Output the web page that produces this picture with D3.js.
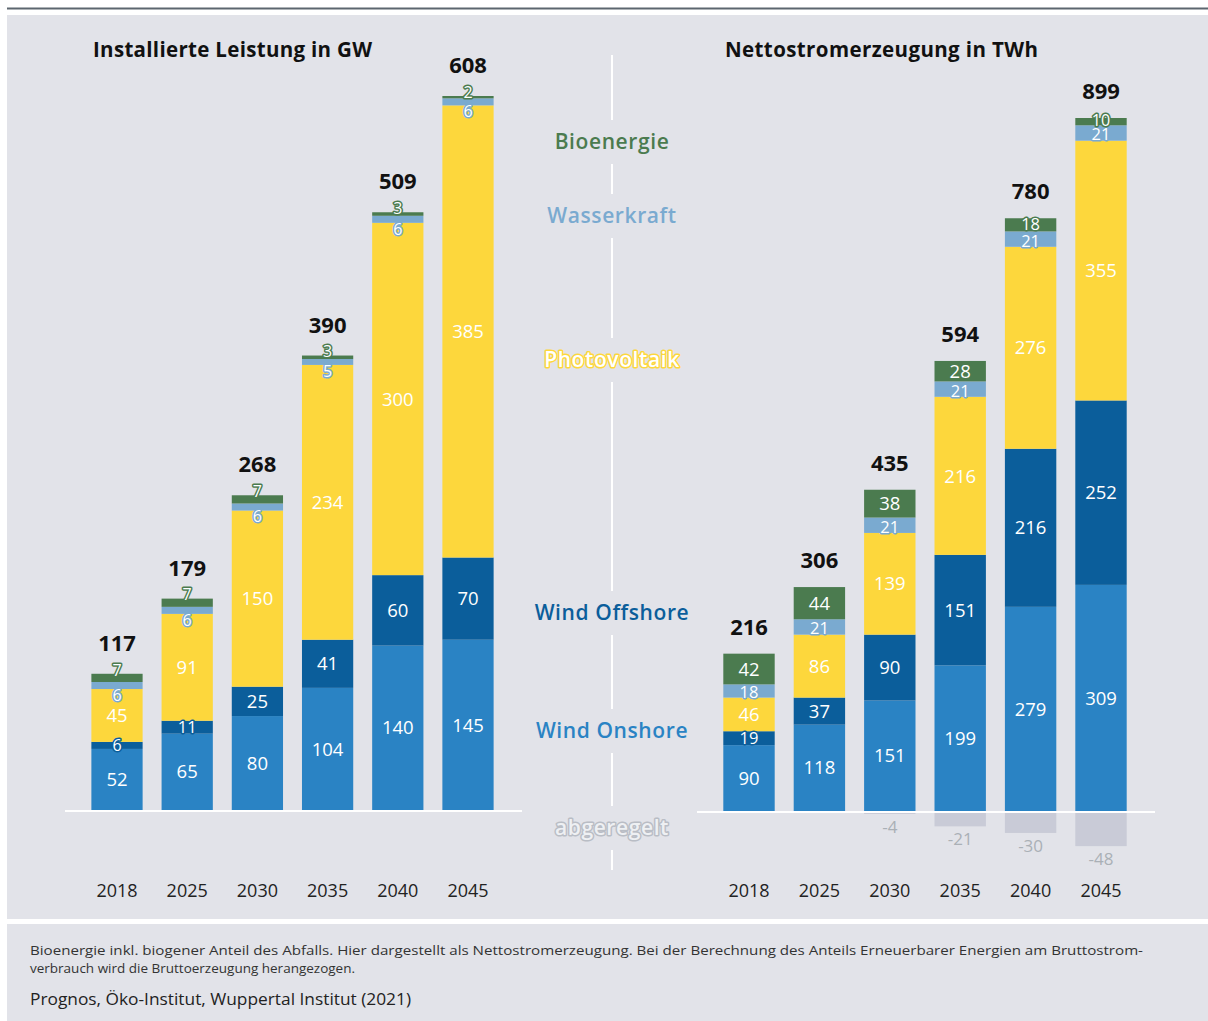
<!DOCTYPE html>
<html><head><meta charset="utf-8">
<script src="https://cdn.jsdelivr.net/npm/d3@7"></script>
<style>
body{margin:0;background:#fff;}
svg{display:block;font-family:"Open Sans",sans-serif;}
</style></head><body>
<svg id="c" width="1208" height="1021"></svg>
<script>
const years = ["2018","2025","2030","2035","2040","2045"];
const seriesKeys = ["Wind Onshore","Wind Offshore","Photovoltaik","Wasserkraft","Bioenergie"];
// Installierte Leistung in GW
const capOnshore = [52,65,80,104,140,145];
const capOffshore = [6,11,25,41,60,70];
const capPV = [45,91,150,234,300,385];
const capHydro = [6,6,6,5,6,6];
const capBio = [7,7,7,3,3,2];
const capTotal = [117,179,268,390,509,608];
// Nettostromerzeugung in TWh
const genOnshore = [90,118,151,199,279,309];
const genOffshore = [19,37,90,151,216,252];
const genPV = [46,86,139,216,276,355];
const genHydro = [18,21,21,21,21,21];
const genBio = [42,44,38,28,18,10];
const genCurtailed = [0,0,-4,-21,-30,-48];
const genTotal = [216,306,435,594,780,899];

const titles = ["Installierte Leistung in GW","Nettostromerzeugung in TWh"];
const footnote1 = "Bioenergie inkl. biogener Anteil des Abfalls. Hier dargestellt als Nettostromerzeugung. Bei der Berechnung des Anteils Erneuerbarer Energien am Bruttostrom-";
const footnote2 = "verbrauch wird die Bruttoerzeugung herangezogen.";
const source = "Prognos, Öko-Institut, Wuppertal Institut (2021)";

const colors = {"Wind Onshore":"#2a83c4","Wind Offshore":"#0b5e9b","Photovoltaik":"#fdd73c","Wasserkraft":"#7aaad0","Bioenergie":"#4b7b4f"};
const BG = "#e2e3e9";

const svg = d3.select("#c");
// frame
svg.append("rect").attr("x",7).attr("y",15).attr("width",1201).attr("height",904).attr("fill",BG);
svg.append("rect").attr("x",7).attr("y",924).attr("width",1201).attr("height",97).attr("fill",BG);
svg.append("line").attr("x1",7).attr("x2",1208).attr("y1",8.5).attr("y2",8.5).attr("stroke","#5c666f").attr("stroke-width",2);

function makeRows(on,off,pv,hy,bio){
  return years.map((y,i)=>({year:y,"Wind Onshore":on[i],"Wind Offshore":off[i],"Photovoltaik":pv[i],"Wasserkraft":hy[i],"Bioenergie":bio[i]}));
}

function drawChart(cfg){
  const rows = makeRows(...cfg.vals);
  const x = d3.scaleBand().domain(years).range(cfg.xr).paddingInner(0.27).paddingOuter(0.135);
  const y = d3.scaleLinear().domain(cfg.yd).range(cfg.yr);
  const g = svg.append("g");
  const stack = d3.stack().keys(seriesKeys)(rows);
  // bars
  stack.forEach(layer=>{
    g.selectAll(null).data(layer).enter().append("rect")
      .attr("x",d=>x(d.data.year)).attr("width",x.bandwidth())
      .attr("y",d=>y(d[1])).attr("height",d=>y(d[0])-y(d[1]))
      .attr("fill",colors[layer.key]);
  });
  // curtailed
  if(cfg.curt){
    const cd = years.map((yr,i)=>({year:yr,v:cfg.curt[i]})).filter(d=>d.v<0);
    g.selectAll(null).data(cd).enter().append("rect")
      .attr("x",d=>x(d.year)).attr("width",x.bandwidth())
      .attr("y",y(0)).attr("height",d=>y(d.v)-y(0)).attr("fill","#c9cbd7");
    g.selectAll(null).data(cd).enter().append("text")
      .attr("x",d=>x(d.year)+x.bandwidth()/2).attr("y",d=>y(d.v)+19)
      .attr("text-anchor","middle").attr("font-size",17).attr("fill","#aab0b6")
      .text(d=>String(d.v));
  }
  const fsOf = h => h<11?16:(h<20?16.5:18.5);
  // segment labels
  stack.forEach(layer=>{
    g.selectAll(null).data(layer).enter().append("text")
      .attr("x",d=>x(d.data.year)+x.bandwidth()/2)
      .attr("y",d=>{
        const top=y(d[1]), bot=y(d[0]), h=bot-top;
        let c=(top+bot)/2;
        if(h<11){
          if(layer.key==="Bioenergie") c = cfg.outside ? top-4 : top+2;
          else if(layer.key==="Wasserkraft") c=bot+6;
        }
        else if(h<20){ if(layer.key==="Bioenergie") c=(top+bot)/2-1; else if(layer.key==="Wasserkraft") c=(top+bot)/2+1.5; }
        return c+fsOf(h)*0.36;
      })
      .attr("text-anchor","middle").attr("font-size",d=>fsOf(y(d[0])-y(d[1]))).attr("fill","#fff")
      .attr("stroke",colors[layer.key]).attr("stroke-width",3).attr("paint-order","stroke").attr("stroke-linejoin","round")
      .text(d=>d.data[layer.key]);
  });
  // totals
  g.selectAll(null).data(rows).enter().append("text")
    .attr("x",d=>x(d.year)+x.bandwidth()/2)
    .attr("y",(d,i)=>y(d3.sum(seriesKeys,k=>d[k]))-cfg.totOff)
    .attr("text-anchor","middle").attr("font-size",22).attr("font-weight",700).attr("fill","#111")
    .text((d,i)=>cfg.totals[i]);
  // baseline
  g.append("line").attr("x1",cfg.base[0]).attr("x2",cfg.base[1]).attr("y1",y(0)+1).attr("y2",y(0)+1)
    .attr("stroke","#fff").attr("stroke-width",2);
  // x axis
  const ax = g.append("g").attr("transform",`translate(0,${cfg.axisY})`).call(d3.axisBottom(x).tickSize(0));
  ax.select(".domain").remove();
  ax.selectAll("text").attr("font-size",18).attr("fill","#222").attr("font-family","Open Sans, sans-serif").attr("dy",0);
  // title
  svg.append("text").attr("x",cfg.titleX).attr("y",57).attr("font-size",20.5).attr("font-weight",700).attr("fill","#111")
    .attr("textLength",cfg.titleW).attr("lengthAdjust","spacing").text(cfg.title);
}

drawChart({vals:[capOnshore,capOffshore,capPV,capHydro,capBio], xr:[81.9,503.1], yd:[0,608], yr:[810,96], outside:true,
  totals:capTotal, totOff:23, base:[65,522], axisY:894, titleX:93, titleW:279, title:titles[0]});
drawChart({vals:[genOnshore,genOffshore,genPV,genHydro,genBio], curt:genCurtailed, xr:[713.8,1136.2], yd:[0,947], yr:[811,118], outside:false,
  totals:genTotal, totOff:19, base:[697,1155], axisY:894, titleX:725, titleW:313, title:titles[1]});

// center legend
const cx = 612;
svg.append("line").attr("x1",cx).attr("x2",cx).attr("y1",55).attr("y2",870).attr("stroke","#fff").attr("stroke-width",2);
const legend = [
  {t:"Bioenergie", y:142, fill:colors["Bioenergie"], stroke:null},
  {t:"Wasserkraft", y:216, fill:colors["Wasserkraft"], stroke:null},
  {t:"Photovoltaik", y:360, fill:"#fff", stroke:colors["Photovoltaik"]},
  {t:"Wind Offshore", y:613, fill:colors["Wind Offshore"], stroke:null},
  {t:"Wind Onshore", y:731, fill:colors["Wind Onshore"], stroke:null},
  {t:"abgeregelt", y:828, fill:"#eef0f3", stroke:"#b9bdc5"}
];
legend.forEach(l=>{
  svg.append("rect").attr("x",cx-10).attr("y",l.y-22).attr("width",20).attr("height",44).attr("fill",BG);
  const t = svg.append("text").attr("x",cx).attr("y",l.y+7).attr("text-anchor","middle").attr("font-size",21)
    .attr("font-weight",600).attr("letter-spacing",0.6).attr("fill",l.fill).text(l.t);
  if(l.stroke) t.attr("stroke",l.stroke).attr("stroke-width",3).attr("paint-order","stroke").attr("stroke-linejoin","round");
});

// footnotes
svg.append("text").attr("x",30).attr("y",955).attr("font-size",13.5).attr("fill","#333").attr("textLength",1113).attr("lengthAdjust","spacingAndGlyphs").text(footnote1);
svg.append("text").attr("x",30).attr("y",973).attr("font-size",13.5).attr("fill","#333").attr("textLength",325).attr("lengthAdjust","spacingAndGlyphs").text(footnote2);
svg.append("text").attr("x",30).attr("y",1005).attr("font-size",16).attr("fill","#222").attr("textLength",381).attr("lengthAdjust","spacingAndGlyphs").text(source);
</script>
</body></html>
